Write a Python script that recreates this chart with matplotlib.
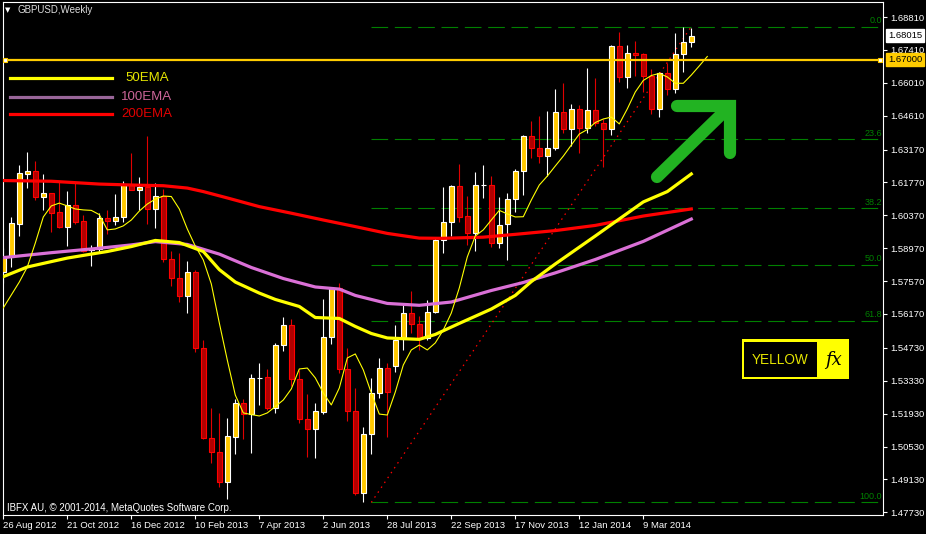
import matplotlib
matplotlib.use('Agg')
import matplotlib.pyplot as plt
import matplotlib.patches as mpatches
from matplotlib.lines import Line2D

W, H = 926, 534
plt.rcParams['font.family'] = ['Liberation Sans', 'DejaVu Sans']

# ---------------- data (GBPUSD weekly) ----------------
opens = [1.5795, 1.5858, 1.6001, 1.6214, 1.6226, 1.6116, 1.6131, 1.6051, 1.5989, 1.6081,
         1.6013, 1.5889, 1.5892, 1.6024, 1.6014, 1.6029, 1.6166, 1.6143, 1.6156, 1.6063,
         1.6119, 1.5850, 1.5769, 1.5695, 1.5795, 1.5471, 1.5091, 1.5028, 1.4903, 1.5095,
         1.5237, 1.5190, 1.5343, 1.5348, 1.5218, 1.5484, 1.5569, 1.5339, 1.5169, 1.5126,
         1.5201, 1.5520, 1.5726, 1.5382, 1.5204, 1.4854, 1.5105, 1.5280, 1.5386, 1.5396,
         1.5509, 1.5620, 1.5573, 1.5514, 1.5627, 1.5932, 1.6010, 1.6162, 1.6034, 1.5960,
         1.6165, 1.6165, 1.5918, 1.5999, 1.6105, 1.6226, 1.6375, 1.6322, 1.6291, 1.6322,
         1.6475, 1.6403, 1.6488, 1.6410, 1.6485, 1.6429, 1.6403, 1.6758, 1.6624, 1.6727,
         1.6724, 1.6631, 1.6488, 1.6641, 1.6573, 1.6724, 1.6776]
highs = [1.5898, 1.6029, 1.6251, 1.6305, 1.6268, 1.6212, 1.6133, 1.6177, 1.6141, 1.6178,
         1.6038, 1.5911, 1.6046, 1.6060, 1.6128, 1.6183, 1.6301, 1.6201, 1.6375, 1.6173,
         1.6149, 1.5887, 1.5878, 1.5843, 1.5804, 1.5506, 1.5216, 1.5197, 1.5174, 1.5254,
         1.5255, 1.5362, 1.5410, 1.5382, 1.5492, 1.5606, 1.5594, 1.5379, 1.5277, 1.5240,
         1.5680, 1.5731, 1.5748, 1.5471, 1.5301, 1.5137, 1.5343, 1.5428, 1.5410, 1.5570,
         1.5655, 1.5715, 1.5609, 1.5677, 1.5943, 1.6159, 1.6166, 1.6255, 1.6119, 1.6221,
         1.6251, 1.6204, 1.6116, 1.6131, 1.6235, 1.6379, 1.6440, 1.6460, 1.6481, 1.6573,
         1.6601, 1.6511, 1.6507, 1.6663, 1.6620, 1.6446, 1.6760, 1.6816, 1.6762, 1.6779,
         1.6726, 1.6658, 1.6648, 1.6687, 1.6812, 1.6840, 1.6833]
lows = [1.5749, 1.5818, 1.5950, 1.6155, 1.6102, 1.6060, 1.5967, 1.5984, 1.5908, 1.6001,
        1.5882, 1.5821, 1.5875, 1.5956, 1.5996, 1.6007, 1.6143, 1.6060, 1.6000, 1.5984,
        1.5840, 1.5736, 1.5669, 1.5623, 1.5457, 1.5085, 1.4982, 1.4879, 1.4830, 1.5021,
        1.5084, 1.5027, 1.5230, 1.5208, 1.5194, 1.5461, 1.5311, 1.5152, 1.5010, 1.5003,
        1.5190, 1.5488, 1.5367, 1.5163, 1.4847, 1.4815, 1.5021, 1.5258, 1.5095, 1.5370,
        1.5464, 1.5535, 1.5464, 1.5506, 1.5623, 1.5878, 1.5949, 1.6010, 1.5911, 1.5886,
        1.6109, 1.5903, 1.5897, 1.5847, 1.6052, 1.6123, 1.6282, 1.6258, 1.6204, 1.6315,
        1.6389, 1.6332, 1.6304, 1.6389, 1.6417, 1.6244, 1.6379, 1.6606, 1.6578, 1.6631,
        1.6563, 1.6467, 1.6457, 1.6549, 1.6559, 1.6648, 1.6755]
closes = [1.5858, 1.6003, 1.6216, 1.6226, 1.6116, 1.6131, 1.6048, 1.5989, 1.6081, 1.6010,
          1.5886, 1.5892, 1.6024, 1.6014, 1.6029, 1.6169, 1.6143, 1.6156, 1.6063, 1.6119,
          1.5850, 1.5769, 1.5695, 1.5795, 1.5471, 1.5091, 1.5028, 1.4903, 1.5098, 1.5237,
          1.5190, 1.5343, 1.5345, 1.5218, 1.5485, 1.5569, 1.5339, 1.5169, 1.5126, 1.5204,
          1.5520, 1.5726, 1.5382, 1.5204, 1.4854, 1.5105, 1.5282, 1.5386, 1.5284, 1.5506,
          1.5620, 1.5573, 1.5514, 1.5627, 1.5932, 1.6010, 1.6162, 1.6031, 1.5960, 1.6165,
          1.6166, 1.5918, 1.5996, 1.6105, 1.6226, 1.6375, 1.6322, 1.6291, 1.6322, 1.6475,
          1.6403, 1.6488, 1.6410, 1.6485, 1.6429, 1.6403, 1.6758, 1.6624, 1.6727, 1.6721,
          1.6631, 1.6488, 1.6641, 1.6573, 1.6724, 1.6776, 1.68015]

# moving averages (bar index, price)
ema50_idx = [0, 3, 6, 8, 11, 13, 16, 19, 22, 25, 27, 29, 32, 34, 37, 39, 42, 44, 46, 48,
             52, 54, 57, 61, 64, 66, 69, 74, 80, 83, 86]
ema50 = [1.5776, 1.5817, 1.5840, 1.5855, 1.5872, 1.5883, 1.5904, 1.5930, 1.5921, 1.5883,
         1.5806, 1.5753, 1.5706, 1.5679, 1.5649, 1.5602, 1.5598, 1.5564, 1.5534, 1.5515,
         1.5509, 1.5530, 1.5577, 1.5638, 1.5696, 1.5755, 1.5830, 1.5949, 1.6094, 1.6138,
         1.6213]
ema100_idx = [0, 6, 12, 16, 19, 23, 27, 31, 35, 39, 42, 44, 48, 52, 56, 61, 65, 69, 74, 80, 86]
ema100 = [1.5857, 1.5878, 1.5897, 1.5911, 1.5925, 1.5913, 1.5872, 1.5815, 1.5768, 1.5732,
          1.5723, 1.5696, 1.5662, 1.5654, 1.5668, 1.5717, 1.5751, 1.5792, 1.5849, 1.5926,
          1.6021]
ema200_idx = [0, 6, 12, 16, 20, 23, 25, 28, 32, 36, 40, 44, 48, 52, 55, 60, 64, 69, 74, 80, 86]
ema200 = [1.6185, 1.6182, 1.6170, 1.6166, 1.6163, 1.6153, 1.6138, 1.6111, 1.6074, 1.6046,
          1.6017, 1.5989, 1.5960, 1.5940, 1.5939, 1.5944, 1.5956, 1.5972, 1.5994, 1.6034,
          1.6064]
fast_ma = [1.5643, 1.5698, 1.5753, 1.5817, 1.5919, 1.6030, 1.6077, 1.6089, 1.6077, 1.6064,
           1.6060, 1.6058, 1.6040, 1.5975, 1.5979, 1.5992, 1.6017, 1.6055, 1.6085, 1.6106,
           1.6119, 1.6117, 1.6064, 1.5979, 1.5906, 1.5847, 1.5745, 1.5579, 1.5421, 1.5272,
           1.5196, 1.5189, 1.5183, 1.5196, 1.5223, 1.5251, 1.5298, 1.5383, 1.5387, 1.5345,
           1.5281, 1.5230, 1.5302, 1.5430, 1.5447, 1.5379, 1.5281, 1.5191, 1.5187, 1.5285,
           1.5400, 1.5464, 1.5485, 1.5464, 1.5494, 1.5549, 1.5621, 1.5728, 1.5860, 1.5949,
           1.5975, 1.6017, 1.6058, 1.6043, 1.6030, 1.6031, 1.6102, 1.6166, 1.6204, 1.6247,
           1.6289, 1.6336, 1.6383, 1.6402, 1.6432, 1.6447, 1.6455, 1.6426, 1.6490, 1.6562,
           1.6611, 1.6632, 1.6641, 1.6626, 1.6599, 1.6599, 1.6634, 1.6673, 1.6713]

fib_low, fib_high = 1.4815, 1.6840
fib_start, fib_end = 46, 86
fib_levels = [0.0, 23.6, 38.2, 50.0, 61.8, 100.0]
hline_price = 1.67000
last_price = 1.68015

price_ticks = [1.68810, 1.67410, 1.66010, 1.64610, 1.63170, 1.61770, 1.60370, 1.58970,
               1.57570, 1.56170, 1.54730, 1.53330, 1.51930, 1.50530, 1.49130, 1.47730]
date_idx = [0, 8, 16, 24, 32, 40, 48, 56, 64, 72, 80]
date_labels = ['26 Aug 2012', '21 Oct 2012', '16 Dec 2012', '10 Feb 2013', '7 Apr 2013',
               '2 Jun 2013', '28 Jul 2013', '22 Sep 2013', '17 Nov 2013', '12 Jan 2014',
               '9 Mar 2014']

# ---------------- figure ----------------
fig = plt.figure(figsize=(W / 100, H / 100), dpi=100, facecolor='black')
ax = fig.add_axes([2.5 / W, 19 / H, 880.8 / W, 513 / H])
ax.set_facecolor('black')
ax.set_xlim(-0.1, 110.0)
ax.set_ylim(1.47615, 1.69449)

def fx(x):
    return x / W

def fy(y):
    return 1 - y / H

# fib levels (behind)
rng = fib_high - fib_low
for lv in fib_levels:
    p = fib_high - lv / 100.0 * rng
    ax.plot([fib_start, 110.0], [p, p], color='#008000', lw=0.8,
            linestyle=(0, (15, 6)), zorder=1)
    ax.text(0.9985, p + 0.0006, '%.1f' % lv, transform=ax.get_yaxis_transform(),
            ha='right', va='bottom', color='#008000', fontsize=6.5, zorder=1)
ax.plot([fib_start, fib_end], [fib_low, fib_high], color='#FF0000', lw=0.9,
        linestyle=(0, (1.2, 3.5)), zorder=2)

# candles
bw = 0.56
for i in range(len(opens)):
    o, h, l, c = opens[i], highs[i], lows[i], closes[i]
    bull = c >= o
    wick = '#FFFFFF' if bull else '#E00000'
    face = '#FFC800' if bull else '#B00000'
    edge = '#FFFFFF' if bull else '#FF0000'
    ax.vlines(i, l, h, color=wick, lw=0.8, zorder=3)
    ax.add_patch(mpatches.Rectangle((i - bw / 2, min(o, c)), bw, abs(c - o),
                                    facecolor=face, edgecolor=edge, lw=0.8, zorder=4))

# moving averages
ax.plot(ema200_idx, ema200, color='#FF0000', lw=2.3, zorder=5)
ax.plot(ema100_idx, ema100, color='#DA70D6', lw=2.3, zorder=5)
ax.plot(ema50_idx, ema50, color='#FFFF00', lw=2.3, zorder=5)
ax.plot(range(len(fast_ma)), fast_ma, color='#FFFF00', lw=0.8, zorder=5)

# horizontal level
ax.axhline(hline_price, color='#FFCC00', lw=1.6, zorder=6)
ax.plot([0.2, 109.6], [hline_price, hline_price], ls='none', marker='s', ms=3.2,
        mfc='white', mec='#FFCC00', mew=0.8, zorder=7, clip_on=False)

# axes styling
for s in ax.spines.values():
    s.set_color('white')
    s.set_linewidth(0.8)
ax.yaxis.tick_right()
ax.set_yticks(price_ticks)
ax.set_yticklabels(['%.5f' % v for v in price_ticks])
ax.set_xticks(date_idx)
ax.set_xticklabels(date_labels, ha='left')
ax.tick_params(axis='y', colors='white', labelsize=6.8, length=3, width=0.8, pad=2)
ax.tick_params(axis='x', colors='white', labelsize=6.8, length=3, width=0.8, pad=1.5)
for lbl in ax.get_xticklabels():
    lbl.set_x(lbl.get_position()[0])

# price boxes on the right scale
tr = ax.get_yaxis_transform()
ax.text(1.0055, last_price, '%.5f' % last_price, transform=tr, ha='left', va='center',
        fontsize=6.8, color='black', clip_on=False, zorder=10,
        bbox=dict(boxstyle='square,pad=0.18', fc='white', ec='white'))
ax.text(1.0055, hline_price, '%.5f' % hline_price, transform=tr, ha='left', va='center',
        fontsize=6.8, color='black', clip_on=False, zorder=10,
        bbox=dict(boxstyle='square,pad=0.18', fc='#FFCC00', ec='#FFCC00'))

# title and copyright
fig.text(fx(5), fy(10), '\u25BC', color='white', fontsize=5, va='center', ha='left',
         family='DejaVu Sans')
fig.text(fx(18), fy(10), 'GBPUSD,Weekly', color='#DDDDDD', fontsize=7, va='center')
fig.text(fx(7), fy(508), 'IBFX AU, \u00A9 2001-2014, MetaQuotes Software Corp.',
         color='white', fontsize=7, va='center')

# legend
legend_items = [('50EMA', '#FFFF00', '#E6E600', 78.3),
                ('100EMA', '#996699', '#CC6699', 96.7),
                ('200EMA', '#FF0000', '#E00000', 114.3)]
for name, lc, tc, yy in legend_items:
    fig.add_artist(Line2D([fx(10), fx(112)], [fy(yy), fy(yy)], color=lc, lw=2.3,
                          transform=fig.transFigure))
    fig.text(fx(147), fy(yy), name, color=tc, fontsize=9.5, ha='center', va='center')

# green arrow
g = '#22B322'
fig.add_artist(Line2D([fx(677), fx(730), fx(730)], [fy(106), fy(106), fy(153)],
                      color=g, lw=8.8, solid_capstyle='round', solid_joinstyle='miter',
                      transform=fig.transFigure))
fig.add_artist(Line2D([fx(657), fx(729)], [fy(177), fy(107)], color=g, lw=8.8,
                      solid_capstyle='round', transform=fig.transFigure))

# logo
fig.add_artist(mpatches.Rectangle((fx(741.7), fy(379.3)), (849.3 - 741.7) / W,
                                  (379.3 - 339.3) / H, transform=fig.transFigure,
                                  fc='#FFFF00', ec='none'))
fig.add_artist(mpatches.Rectangle((fx(744), fy(377.3)), (817.3 - 744) / W,
                                  (377.3 - 341.7) / H, transform=fig.transFigure,
                                  fc='black', ec='none'))
fig.text(fx(780.5), fy(360), 'YELLOW', color='#E6E600', fontsize=9.8, ha='center',
         va='center')
fig.text(fx(833), fy(360), 'fx', color='black', fontsize=13, ha='center', va='center',
         family='DejaVu Serif', style='italic')

fig.savefig('out.png', dpi=100, facecolor='black')
